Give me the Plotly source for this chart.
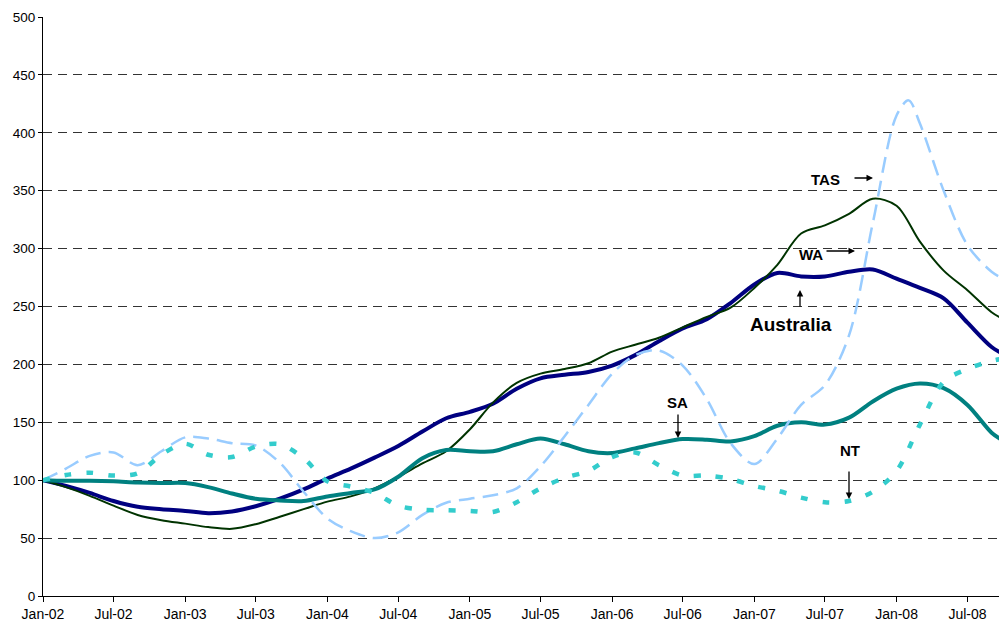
import pandas as pd
import plotly.graph_objects as go

# two-monthly readings Jan-02 .. Sep-08, plus Oct-08
months = list(pd.date_range("2002-01-01", periods=41, freq="2MS").strftime("%Y-%m-%d")) + ["2008-10-01"]

australia = [100, 95, 89, 82, 77, 75, 73.5, 71.5, 73, 77.5, 84, 92, 101.5, 110, 119.5, 129.5,
             142, 153.5, 159, 166, 179, 188, 191, 193.5, 199, 208, 220, 231, 239, 253, 269,
             279, 276, 276, 280, 282, 274, 266, 257, 236, 215, 209]
wa = [100, 94, 86.5, 78, 70, 65.5, 62.5, 59.5, 58, 62, 68.5, 75, 81.5, 86, 93, 103,
      114.5, 125, 144, 167, 184, 192, 196, 201, 211, 217, 223, 232, 241, 249, 266,
      286, 313, 320, 330, 343, 337, 306, 281, 264, 245, 239]
sa = [100, 99.5, 99.5, 99, 98, 97.5, 97.5, 94, 88.5, 84, 82.5, 82, 86, 89, 92, 103,
      119, 126, 125, 125, 131, 136, 131, 125, 123.5, 127.5, 132, 135.5, 135, 133.5, 138,
      147, 150, 148, 154, 168, 179, 183.5, 179.5, 165, 141, 134]
nt = [100, 104.5, 106.5, 104, 106, 122, 131.5, 122, 120, 129, 131, 119, 99, 94.5, 89, 78,
      74.5, 74, 73.5, 72.5, 81, 93, 102, 108, 120, 124, 113, 104, 104, 101, 95,
      91, 85, 81, 82, 90, 108, 148, 185, 196, 203, 205]

# TAS has one extra reading at its Feb-08 peak
tas_months = months[:37] + ["2008-02-01"] + months[37:]
tas = [100, 110, 121, 124, 113, 125, 137, 136, 132, 130, 115, 90, 67, 56, 50, 55,
       70, 80.5, 84, 87, 93, 112, 138, 165, 192, 208, 212, 199, 170, 132, 114,
       136, 165, 182, 225, 322, 415, 428, 408, 350, 303, 280, 274]

FONT = "Liberation Sans, Arial, sans-serif"

fig = go.Figure()
fig.add_trace(go.Scatter(x=months, y=australia, name="Australia", mode="lines",
                         line=dict(color="#000080", width=4, shape="spline", smoothing=0.9)))
fig.add_trace(go.Scatter(x=months, y=wa, name="WA", mode="lines",
                         line=dict(color="#003300", width=2, shape="spline", smoothing=0.9)))
fig.add_trace(go.Scatter(x=months, y=sa, name="SA", mode="lines",
                         line=dict(color="#008080", width=4, shape="spline", smoothing=0.9)))
fig.add_trace(go.Scatter(x=tas_months, y=tas, name="TAS", mode="lines",
                         line=dict(color="#99CCFF", width=2.5, dash="16px,8px", shape="spline", smoothing=0.9)))
fig.add_trace(go.Scatter(x=months, y=nt, name="NT", mode="lines",
                         line=dict(color="#33CCCC", width=4.5, dash="7px,15px", shape="spline", smoothing=0.9)))

# plot area in pixels: x 43..999, y 17..596
def px(x):
  return (x - 43) / 956

def py(y):
  return (596 - y) / 579

labels = [("TAS", 825, 179, 15), ("WA", 811, 254, 15), ("Australia", 791, 324, 19),
          ("SA", 677, 402, 15), ("NT", 850, 451, 15)]
for txt, x, y, s in labels:
  fig.add_annotation(x=px(x), y=py(y), xref="paper", yref="paper", text="<b>%s</b>" % txt,
                     xanchor="center", yanchor="middle", showarrow=False,
                     font=dict(size=s, color="black", family=FONT))

# arrows: head position and tail offset (pixels)
arrows = [(873, 178, -20, 0), (855, 251, -30, 0), (800, 290, 0, 18),
          (678, 438, 0, -25), (849, 499, 0, -29)]
for x, y, ax, ay in arrows:
  fig.add_annotation(x=px(x), y=py(y), xref="paper", yref="paper", text="", showarrow=True,
                     ax=ax, ay=ay, arrowhead=2, arrowsize=1, arrowwidth=1.3, arrowcolor="black")

fig.update_xaxes(type="date", range=["2002-01-01", "2008-09-20"], tick0="2002-01-01", dtick="M6",
                 tickformat="%b-%y", showgrid=False, showline=True, linecolor="black", linewidth=1,
                 ticks="outside", ticklen=5, tickcolor="black",
                 tickfont=dict(size=14, color="black", family=FONT))
fig.update_yaxes(range=[0, 500], dtick=50, showgrid=True, gridcolor="#333333", gridwidth=1,
                 griddash="9px,6px", zeroline=False, showline=True, linecolor="black", linewidth=1,
                 ticks="outside", ticklen=4, tickcolor="black",
                 tickfont=dict(size=13.5, color="black", family=FONT))

fig.update_layout(width=999, height=625, showlegend=False,
                  margin=dict(l=43, r=0, t=17, b=29),
                  paper_bgcolor="white", plot_bgcolor="white",
                  font=dict(family=FONT, color="black"))

fig.write_html("out.html", config={"displayModeBar": False},
               post_script="document.body.style.margin='0px';")
